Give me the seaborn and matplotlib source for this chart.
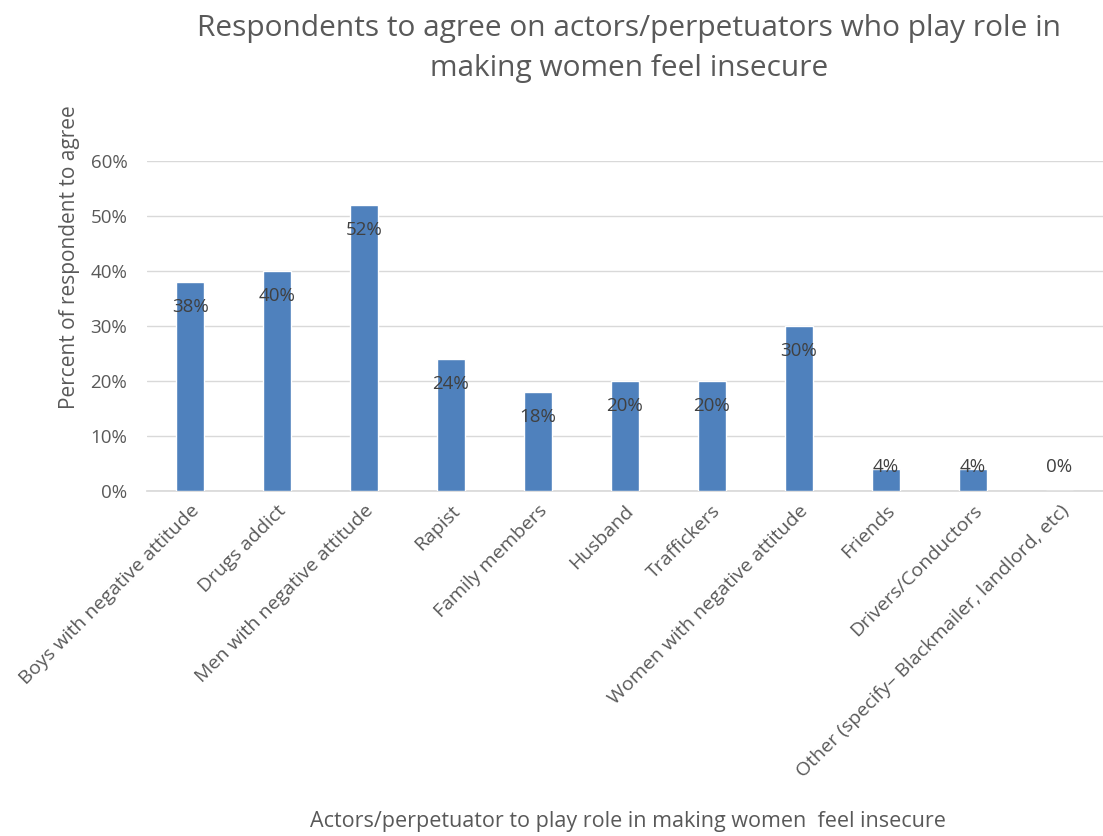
import matplotlib
matplotlib.use("Agg")
import matplotlib.pyplot as plt
import seaborn as sns
import pandas as pd
from matplotlib.ticker import PercentFormatter

categories = ["Boys with negative attitude", "Drugs addict", "Men with negative attitude",
              "Rapist", "Family members", "Husband", "Traffickers",
              "Women with negative attitude", "Friends", "Drivers/Conductors",
              "Other (specify– Blackmailer, landlord, etc)"]
values = [0.38, 0.40, 0.52, 0.24, 0.18, 0.20, 0.20, 0.30, 0.04, 0.04, 0.00]
labels = ["38%", "40%", "52%", "24%", "18%", "20%", "20%", "30%", "4%", "4%", "0%"]

sns.set_theme(style="white")
plt.rcParams['font.family'] = ['Open Sans', 'DejaVu Sans']

df = pd.DataFrame({"cat": categories, "val": values})
fig = plt.figure(figsize=(11.03, 8.36), dpi=100)
ax = fig.add_axes([0.133, 0.413, 0.867, 0.394])
sns.barplot(data=df, x="cat", y="val", color="#4F81BD", width=0.32, saturation=1, ax=ax, zorder=3)

ax.set_ylim(0, 0.6)
ax.set_yticks([0, 0.1, 0.2, 0.3, 0.4, 0.5, 0.6])
ax.yaxis.set_major_formatter(PercentFormatter(1.0, decimals=0))
ax.grid(axis="y", color="#D9D9D9", linewidth=1, zorder=0)
for s in ["top", "right", "left"]:
    ax.spines[s].set_visible(False)
ax.spines["bottom"].set_color("#D9D9D9")
ax.tick_params(axis="y", colors="#595959", labelsize=13.5, length=0, pad=14)
ax.tick_params(axis="x", colors="#595959", labelsize=14, length=0, pad=8)
plt.setp(ax.get_xticklabels(), rotation=45, ha="right", va="top", rotation_mode="anchor")

for i, (v, lab) in enumerate(zip(values, labels)):
    y = max(v - 0.045, 0.044)
    ax.text(i, y, lab, ha="center", va="center", fontsize=13.5, color="#404040", zorder=5)

ax.set_xlabel("Actors/perpetuator to play role in making women  feel insecure",
              fontsize=15.5, color="#595959")
ax.xaxis.set_label_coords(0.503, -0.972)
ax.set_ylabel("Percent of respondent to agree", fontsize=15, color="#595959")
ax.yaxis.set_label_coords(-0.07, 0.71)
fig.suptitle("Respondents to agree on actors/perpetuators who play role in\nmaking women feel insecure",
             x=0.570, y=0.983, fontsize=21.5, color="#595959", linespacing=1.5)
fig.savefig("out.png", dpi=100)
